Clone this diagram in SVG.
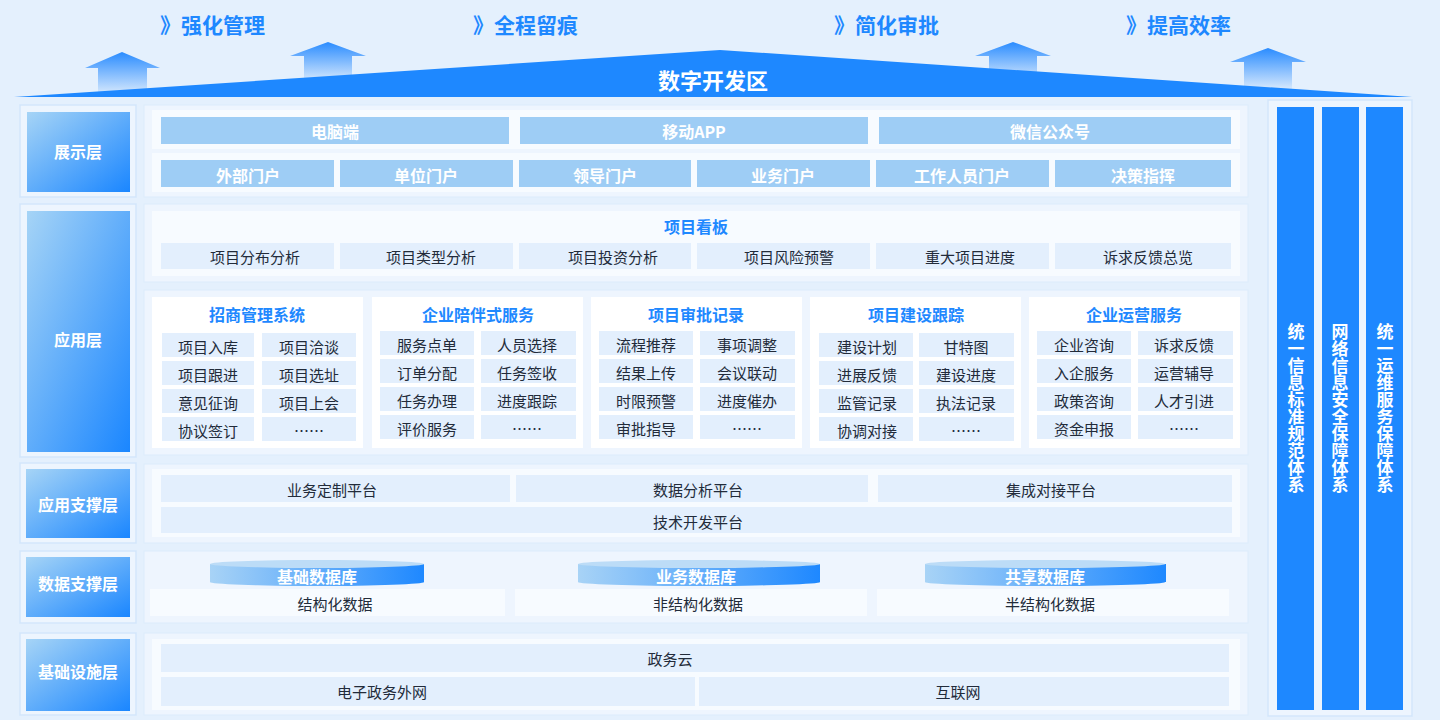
<svg xmlns="http://www.w3.org/2000/svg" width="1440" height="720" viewBox="0 0 1440 720">
<defs>
<linearGradient id="lab" x1="0" y1="0" x2="1" y2="1"><stop offset="0" stop-color="#a6d4f6"/><stop offset="1" stop-color="#1a86ff"/></linearGradient>
<linearGradient id="arw" x1="0" y1="0" x2="0" y2="1"><stop offset="0" stop-color="#2a8cff"/><stop offset="1" stop-color="#2a8cff" stop-opacity="0.05"/></linearGradient>
<linearGradient id="cyl" x1="0" y1="0" x2="1" y2="0"><stop offset="0" stop-color="#a8d3f6"/><stop offset="1" stop-color="#1e88ff"/></linearGradient>
<style>
.t{font-family:"Noto Sans CJK SC","Noto Sans",sans-serif;text-anchor:middle;dominant-baseline:central}
.top{font-size:21px;font-weight:700;fill:#1e88ff;text-anchor:start}
.lab{font-size:16px;font-weight:700;fill:#fff}
.wb{font-size:16px;font-weight:700;fill:#fff}
.it{font-size:15px;fill:#222b3a}
.ti{font-size:16px;font-weight:700;fill:#1e88ff}
.outer{fill:#edf5fe;stroke:#d3e6fb;stroke-width:1.5}
.pan{fill:#eef5fe;stroke:#dcebfc;stroke-width:1}
.inn{fill:#f7fbff}
.box{fill:#e3effd}
.lb{fill:#9ecdf5}
.card{fill:#fff}
.col{fill:#1e88ff}
.vt{font-family:"Noto Sans CJK SC",sans-serif;font-size:17px;font-weight:700;fill:#fff;writing-mode:vertical-rl;text-anchor:middle}
</style>
</defs>
<rect width="1440" height="720" fill="#e4f0fd"/>
<g id="head">
<text class="t top" x="160" y="24">》强化管理</text>
<text class="t top" x="473" y="24">》全程留痕</text>
<text class="t top" x="834" y="24">》简化审批</text>
<text class="t top" x="1126" y="24">》提高效率</text>
<polygon points="85,68 122,52 160,68 147,68 147,95 98,95 98,68" fill="url(#arw)"/>
<polygon points="290,56 328,42 366,56 352,56 352,82 304,82 304,56" fill="url(#arw)"/>
<polygon points="975,56 1013,42 1051,56 1037,56 1037,82 989,82 989,56" fill="url(#arw)"/>
<polygon points="1230,62 1268,48 1306,62 1292,62 1292,90 1244,90 1244,62" fill="url(#arw)"/>
<polygon points="14,97 720,50 1412,97" fill="#1e88ff"/>
<polygon points="85,68 122,52 160,68 147,68 147,90 98,90 98,68" fill="url(#arw)" opacity="0"/>
<text class="t" x="713" y="79" style="font-size:22px;font-weight:700;fill:#fff">数字开发区</text>
</g>
<g id="labels">
<rect class="outer" x="20" y="105" width="116" height="92"/><rect fill="url(#lab)" x="27" y="112" width="103" height="80"/><text class="t lab" x="78" y="151">展示层</text>
<rect class="outer" x="20" y="204" width="116" height="253"/><rect fill="url(#lab)" x="27" y="211" width="103" height="241"/><text class="t lab" x="78" y="339">应用层</text>
<rect class="outer" x="20" y="463" width="116" height="80"/><rect fill="url(#lab)" x="26" y="469" width="104" height="69"/><text class="t lab" x="78" y="504">应用支撑层</text>
<rect class="outer" x="20" y="551" width="116" height="72"/><rect fill="url(#lab)" x="26" y="557" width="104" height="60"/><text class="t lab" x="78" y="583">数据支撑层</text>
<rect class="outer" x="20" y="633" width="116" height="82"/><rect fill="url(#lab)" x="26" y="639" width="104" height="72"/><text class="t lab" x="78" y="671">基础设施层</text>
</g>
<g id="show">
<rect class="pan" x="144" y="105" width="1104" height="92"/>
<rect class="inn" x="152" y="110" width="1088" height="39"/>
<rect class="inn" x="152" y="153" width="1088" height="39"/>
<rect class="lb" x="161" y="117" width="348" height="27"/><text class="t wb" x="335" y="131">电脑端</text>
<rect class="lb" x="520" y="117" width="348" height="27"/><text class="t wb" x="694" y="131">移动APP</text>
<rect class="lb" x="879" y="117" width="352" height="27"/><text class="t wb" x="1050" y="131">微信公众号</text>
<rect class="lb" x="161" y="160" width="173" height="27"/><text class="t wb" x="248" y="175">外部门户</text>
<rect class="lb" x="340" y="160" width="173" height="27"/><text class="t wb" x="426" y="175">单位门户</text>
<rect class="lb" x="519" y="160" width="172" height="27"/><text class="t wb" x="605" y="175">领导门户</text>
<rect class="lb" x="697" y="160" width="173" height="27"/><text class="t wb" x="783" y="175">业务门户</text>
<rect class="lb" x="876" y="160" width="173" height="27"/><text class="t wb" x="962" y="175">工作人员门户</text>
<rect class="lb" x="1055" y="160" width="176" height="27"/><text class="t wb" x="1143" y="175">决策指挥</text>
</g>
<g id="app">
<rect class="pan" x="144" y="204" width="1104" height="78"/>
<rect class="inn" x="152" y="211" width="1088" height="65"/>
<text class="t ti" x="696" y="226">项目看板</text>
<rect class="box" x="161" y="243" width="173" height="26"/><text class="t it" x="255" y="256">项目分布分析</text>
<rect class="box" x="340" y="243" width="173" height="26"/><text class="t it" x="431" y="256">项目类型分析</text>
<rect class="box" x="519" y="243" width="172" height="26"/><text class="t it" x="613" y="256">项目投资分析</text>
<rect class="box" x="697" y="243" width="173" height="26"/><text class="t it" x="789" y="256">项目风险预警</text>
<rect class="box" x="876" y="243" width="173" height="26"/><text class="t it" x="970" y="256">重大项目进度</text>
<rect class="box" x="1055" y="243" width="176" height="26"/><text class="t it" x="1148" y="256">诉求反馈总览</text>
<rect class="pan" x="144" y="290" width="1104" height="165"/>
</g>
<g id="card1"><rect class="card" x="152" y="297" width="211" height="151"/><text class="t ti" x="257" y="314">招商管理系统</text>
<rect class="box" x="162" y="333" width="92" height="24"/><text class="t it" x="208" y="346">项目入库</text><rect class="box" x="262" y="333" width="94" height="24"/><text class="t it" x="309" y="346">项目洽谈</text>
<rect class="box" x="162" y="361" width="92" height="24"/><text class="t it" x="208" y="374">项目跟进</text><rect class="box" x="262" y="361" width="94" height="24"/><text class="t it" x="309" y="374">项目选址</text>
<rect class="box" x="162" y="389" width="92" height="24"/><text class="t it" x="208" y="402">意见征询</text><rect class="box" x="262" y="389" width="94" height="24"/><text class="t it" x="309" y="402">项目上会</text>
<rect class="box" x="162" y="417" width="92" height="24"/><text class="t it" x="208" y="430">协议签订</text><rect class="box" x="262" y="417" width="94" height="24"/><text class="t it" x="309" y="430">……</text></g>
<g id="card2"><rect class="card" x="372" y="297" width="211" height="151"/><text class="t ti" x="478" y="314">企业陪伴式服务</text>
<rect class="box" x="380" y="331" width="94" height="24"/><text class="t it" x="427" y="344">服务点单</text><rect class="box" x="481" y="331" width="95" height="24"/><text class="t it" x="527" y="344">人员选择</text>
<rect class="box" x="380" y="359" width="94" height="24"/><text class="t it" x="427" y="372">订单分配</text><rect class="box" x="481" y="359" width="95" height="24"/><text class="t it" x="527" y="372">任务签收</text>
<rect class="box" x="380" y="387" width="94" height="24"/><text class="t it" x="427" y="400">任务办理</text><rect class="box" x="481" y="387" width="95" height="24"/><text class="t it" x="527" y="400">进度跟踪</text>
<rect class="box" x="380" y="415" width="94" height="24"/><text class="t it" x="427" y="428">评价服务</text><rect class="box" x="481" y="415" width="95" height="24"/><text class="t it" x="527" y="428">……</text></g>
<g id="card3"><rect class="card" x="591" y="297" width="211" height="151"/><text class="t ti" x="696" y="314">项目审批记录</text>
<rect class="box" x="599" y="331" width="94" height="24"/><text class="t it" x="646" y="344">流程推荐</text><rect class="box" x="700" y="331" width="95" height="24"/><text class="t it" x="747" y="344">事项调整</text>
<rect class="box" x="599" y="359" width="94" height="24"/><text class="t it" x="646" y="372">结果上传</text><rect class="box" x="700" y="359" width="95" height="24"/><text class="t it" x="747" y="372">会议联动</text>
<rect class="box" x="599" y="387" width="94" height="24"/><text class="t it" x="646" y="400">时限预警</text><rect class="box" x="700" y="387" width="95" height="24"/><text class="t it" x="747" y="400">进度催办</text>
<rect class="box" x="599" y="415" width="94" height="24"/><text class="t it" x="646" y="428">审批指导</text><rect class="box" x="700" y="415" width="95" height="24"/><text class="t it" x="747" y="428">……</text></g>
<g id="card4"><rect class="card" x="810" y="297" width="211" height="151"/><text class="t ti" x="916" y="314">项目建设跟踪</text>
<rect class="box" x="819" y="333" width="94" height="24"/><text class="t it" x="867" y="346">建设计划</text><rect class="box" x="919" y="333" width="95" height="24"/><text class="t it" x="966" y="346">甘特图</text>
<rect class="box" x="819" y="361" width="94" height="24"/><text class="t it" x="867" y="374">进展反馈</text><rect class="box" x="919" y="361" width="95" height="24"/><text class="t it" x="966" y="374">建设进度</text>
<rect class="box" x="819" y="389" width="94" height="24"/><text class="t it" x="867" y="402">监管记录</text><rect class="box" x="919" y="389" width="95" height="24"/><text class="t it" x="966" y="402">执法记录</text>
<rect class="box" x="819" y="417" width="94" height="24"/><text class="t it" x="867" y="430">协调对接</text><rect class="box" x="919" y="417" width="95" height="24"/><text class="t it" x="966" y="430">……</text></g>
<g id="card5"><rect class="card" x="1029" y="297" width="211" height="151"/><text class="t ti" x="1134" y="314">企业运营服务</text>
<rect class="box" x="1037" y="331" width="94" height="24"/><text class="t it" x="1084" y="344">企业咨询</text><rect class="box" x="1138" y="331" width="95" height="24"/><text class="t it" x="1184" y="344">诉求反馈</text>
<rect class="box" x="1037" y="359" width="94" height="24"/><text class="t it" x="1084" y="372">入企服务</text><rect class="box" x="1138" y="359" width="95" height="24"/><text class="t it" x="1184" y="372">运营辅导</text>
<rect class="box" x="1037" y="387" width="94" height="24"/><text class="t it" x="1084" y="400">政策咨询</text><rect class="box" x="1138" y="387" width="95" height="24"/><text class="t it" x="1184" y="400">人才引进</text>
<rect class="box" x="1037" y="415" width="94" height="24"/><text class="t it" x="1084" y="428">资金申报</text><rect class="box" x="1138" y="415" width="95" height="24"/><text class="t it" x="1184" y="428">……</text></g>
<g id="support">
<rect class="pan" x="144" y="464" width="1104" height="79"/>
<rect class="inn" x="152" y="469" width="1088" height="68"/>
<rect class="box" x="161" y="475" width="349" height="27"/><text class="t it" x="332" y="489">业务定制平台</text>
<rect class="box" x="516" y="475" width="352" height="27"/><text class="t it" x="698" y="489">数据分析平台</text>
<rect class="box" x="878" y="475" width="354" height="27"/><text class="t it" x="1051" y="489">集成对接平台</text>
<rect class="box" x="161" y="507" width="1071" height="26"/><text class="t it" x="698" y="521">技术开发平台</text>
</g>
<g id="data">
<rect class="pan" x="144" y="551" width="1104" height="72"/>
<rect class="inn" x="150" y="589" width="355" height="27"/><text class="t it" x="335" y="603">结构化数据</text>
<rect class="inn" x="515" y="589" width="352" height="27"/><text class="t it" x="698" y="603">非结构化数据</text>
<rect class="inn" x="877" y="589" width="352" height="27"/><text class="t it" x="1050" y="603">半结构化数据</text>
<g><rect fill="url(#cyl)" x="210" y="564" width="214" height="18"/><ellipse cx="317" cy="582" rx="107" ry="4" fill="url(#cyl)"/><ellipse cx="317" cy="564" rx="107" ry="4" fill="#bcdcf7"/><text class="t wb" x="317" y="576">基础数据库</text></g>
<g><rect fill="url(#cyl)" x="578" y="564" width="242" height="18"/><ellipse cx="699" cy="582" rx="121" ry="4" fill="url(#cyl)"/><ellipse cx="699" cy="564" rx="121" ry="4" fill="#bcdcf7"/><text class="t wb" x="696" y="576">业务数据库</text></g>
<g><rect fill="url(#cyl)" x="925" y="564" width="241" height="18"/><ellipse cx="1045" cy="582" rx="120" ry="4" fill="url(#cyl)"/><ellipse cx="1045" cy="564" rx="120" ry="4" fill="#bcdcf7"/><text class="t wb" x="1045" y="576">共享数据库</text></g>
</g>
<g id="infra">
<rect class="pan" x="144" y="633" width="1104" height="82"/>
<rect class="inn" x="152" y="639" width="1088" height="71"/>
<rect class="box" x="161" y="644" width="1068" height="28"/><text class="t it" x="670" y="658">政务云</text>
<rect class="box" x="161" y="677" width="534" height="29"/><text class="t it" x="382" y="691">电子政务外网</text>
<rect class="box" x="699" y="677" width="530" height="29"/><text class="t it" x="958" y="691">互联网</text>
</g>
<g id="right">
<rect class="outer" x="1268" y="100" width="144" height="616"/>
<rect class="col" x="1277" y="107" width="37" height="603"/><text class="vt" x="1296" y="408">统一信息标准规范体系</text>
<rect class="col" x="1322" y="107" width="37" height="603"/><text class="vt" x="1340" y="408">网络信息安全保障体系</text>
<rect class="col" x="1366" y="107" width="37" height="603"/><text class="vt" x="1385" y="408">统一运维服务保障体系</text>
</g>
<g id="connectors"/>
</svg>
